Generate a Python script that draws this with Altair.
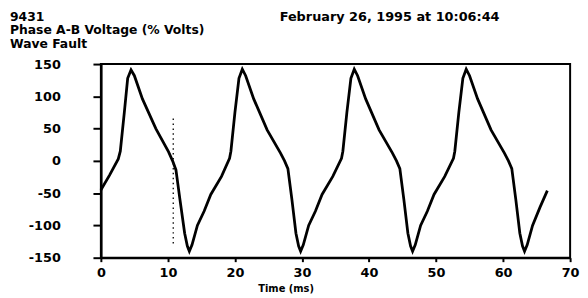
import altair as alt
import pandas as pd

# Waveform: time (ms) and phase A-B voltage (% volts)
time_ms = [0, 1.3, 2.6, 2.9, 3.5, 4.0, 4.5, 5.0, 6.2, 8.2, 10.1, 10.7, 11.2, 11.8, 12.5, 12.9, 13.2, 13.6,
           14.4, 15.4, 16.4, 18.0, 19.2, 19.4, 20.0, 20.6, 21.1, 21.6, 22.8, 24.8, 26.8, 27.4, 27.9, 28.5,
           29.1, 29.5, 29.8, 30.2, 31.0, 32.0, 33.0, 34.6, 35.9, 36.1, 36.7, 37.3, 37.8, 38.3, 39.5, 41.5,
           43.5, 44.1, 44.6, 45.2, 45.8, 46.2, 46.5, 46.9, 47.7, 48.7, 49.7, 51.3, 52.6, 52.8, 53.4, 54.0,
           54.5, 55.0, 56.2, 58.2, 60.2, 60.8, 61.3, 61.9, 62.5, 62.9, 63.2, 63.6, 64.4, 65.5, 66.6]
volts = [-45, -22, 3, 15, 75, 128, 141, 132, 96, 50, 14, 0, -14, -60, -112, -132, -140, -130,
         -100, -78, -52, -24, 4, 15, 75, 128, 142, 132, 96, 48, 12, 0, -12, -60,
         -112, -132, -140, -130, -100, -78, -52, -24, 4, 15, 75, 128, 142, 132, 96, 48,
         12, 0, -12, -60, -112, -132, -140, -130, -100, -78, -52, -24, 4, 15, 75, 128,
         142, 132, 96, 48, 12, 0, -12, -60, -112, -132, -140, -130, -100, -72, -46]

# Dotted fault marker
marker_t = [10.8]
marker_lo = [-128]
marker_hi = [68]

x_ticks = [0, 10, 20, 30, 40, 50, 60, 70]
y_ticks = [-150, -100, -50, 0, 50, 100, 150]

title_lines = ["9431", "Phase A-B Voltage (% Volts)", "Wave Fault"]
date_text = "February 26, 1995 at 10:06:44"

FONT = "DejaVu Sans"
W, H = 475, 196

wave = pd.DataFrame({"t": time_ms, "v": volts})
marker = pd.DataFrame({"t": marker_t, "v": marker_lo, "hi": marker_hi})

xs = alt.Scale(domain=[0, 70], nice=False, zero=False)
ys = alt.Scale(domain=[-150, 150], nice=False, zero=False)
minus_fix = "replace(datum.label, '\u2212', '-')"

x_axis = alt.Axis(
    values=x_ticks, title="Time (ms)", grid=False, domainColor="black", domainWidth=2,
    ticks=True, tickColor="black", tickWidth=2, tickSize=4,
    labelFont=FONT, labelFontWeight="bold",
    labelFontSize=13, labelColor="black", labelPadding=5, labelOverlap=False,
    labelFlush=False, labelBound=False, titleFont=FONT,
    titleFontWeight="bold", titleFontSize=10, titleColor="black", titlePadding=4,
    titleX=187, titleAnchor="middle", titleAlign="center")
y_axis = alt.Axis(
    values=y_ticks, title=None, grid=False, domainColor="black", domainWidth=2.5,
    ticks=True, tickColor="black", tickWidth=2, tickSize=8,
    labelFont=FONT, labelFontWeight="bold", labelFontSize=13,
    labelColor="black", labelPadding=33, labelOverlap=False, labelFlush=False,
    labelBound=False, labelExpr=minus_fix)

X = lambda f: alt.X(f, scale=xs, axis=x_axis)
Y = lambda f: alt.Y(f, scale=ys, axis=y_axis)

line = alt.Chart(wave).mark_line(color="black", strokeWidth=2.8).encode(
    x=X("t:Q"), y=Y("v:Q"))

rule = alt.Chart(marker).mark_rule(color="#111", strokeWidth=1.4, strokeDash=[1.5, 3.5]).encode(
    x=X("t:Q"), y=Y("v:Q"), y2="hi:Q")

texts = []
for i, s in enumerate(title_lines):
    texts.append(alt.Chart(pd.DataFrame({"s": [s]})).mark_text(
        align="left", baseline="middle", font=FONT, fontWeight="bold", fontSize=12.5, color="black"
    ).encode(x=alt.value(-92), y=alt.value(-48 + 14 * i), text="s:N"))
texts.append(alt.Chart(pd.DataFrame({"s": [date_text]})).mark_text(
    align="left", baseline="middle", font=FONT, fontWeight="bold", fontSize=13, color="black"
).encode(x=alt.value(181), y=alt.value(-48), text="s:N"))

chart = alt.layer(line, rule, *texts).properties(
    width=W, height=H,
    autosize=alt.AutoSizeParams(type="none"),
    padding={"left": 94, "top": 55, "right": 10, "bottom": 36},
).configure(
    background="white",
    view=alt.ViewConfig(stroke="black", strokeWidth=2),
    axis=alt.AxisConfig(labelOverlap=False),
)

chart.save("out.html", embed_options={"renderer": "svg", "actions": False})
